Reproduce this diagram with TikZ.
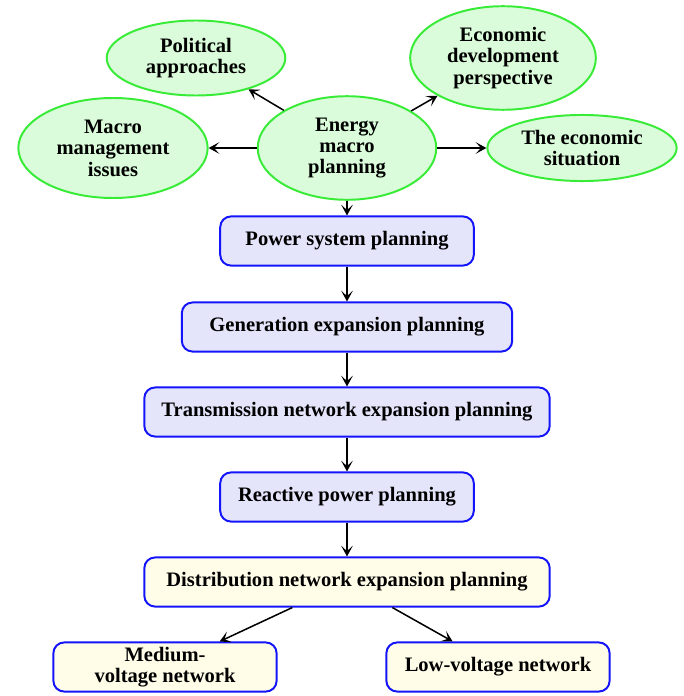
\documentclass[tikz,border=0pt]{standalone}
\usepackage{fontspec}
\setmainfont{Liberation Serif}
\usepackage{tikz}
\usetikzlibrary{shapes.geometric, arrows.meta}

\definecolor{ovalline}{RGB}{55,235,55}
\definecolor{ovalfill}{RGB}{218,252,218}
\definecolor{boxline}{RGB}{20,20,250}
\definecolor{boxfill}{RGB}{228,228,250}
\definecolor{lowfill}{RGB}{255,253,232}

\tikzset{
  oval/.style={ellipse, draw=ovalline, fill=ovalfill, line width=1.1pt,
    inner sep=0pt, align=center, font=\fontsize{11.5}{12}\selectfont\bfseries},
  plan/.style={rectangle, rounded corners=6pt, draw=boxline, fill=boxfill,
    line width=1.1pt, minimum height=27.5pt, inner sep=2pt, align=center,
    font=\fontsize{11.5}{12}\selectfont\bfseries},
  netw/.style={plan, fill=lowfill},
  link/.style={-{Stealth[length=6pt, width=6.5pt, inset=3pt]}, line width=0.85pt}
}

\begin{document}
\begin{tikzpicture}[x=0.56pt, y=-0.56pt]
    \useasboundingbox (0,0) rectangle (683,696);

    % the macro level
    \node[oval, minimum width=100pt, minimum height=58pt] (energy) at (347,148) {Energy\\macro\\planning};
    \node[oval, minimum width=100pt, minimum height=42pt] (polit) at (196,58) {Political\\approaches};
    \node[oval, minimum width=104pt, minimum height=58pt] (econdev) at (503,58) {Economic\\development\\perspective};
    \node[oval, minimum width=106pt, minimum height=56pt] (macro) at (113,148) {Macro\\management\\issues};
    \node[oval, minimum width=106pt, minimum height=37pt] (econsit) at (582,148) {The economic\\situation};

    % the planning chain
    \node[plan, minimum width=142pt] (power) at (347,241) {Power system planning};
    \node[plan, minimum width=185pt] (gen) at (347,327) {Generation expansion planning};
    \node[plan, minimum width=227pt] (trans) at (347,412) {Transmission network expansion planning};
    \node[plan, minimum width=142pt] (react) at (347,497) {Reactive power planning};
    \node[netw, minimum width=227pt] (dist) at (347,582) {Distribution network expansion planning};
    \node[netw, minimum width=125pt] (medium) at (165,667) {Medium-\\voltage network};
    \node[netw, minimum width=125pt] (low) at (498,667) {Low-voltage network};

    \draw[link] (energy) -- (polit);
    \draw[link] (energy) -- (econdev);
    \draw[link] (energy) -- (macro);
    \draw[link] (energy) -- (econsit);
    \draw[link] (energy) -- (power);
    \draw[link] (power) -- (gen);
    \draw[link] (gen) -- (trans);
    \draw[link] (trans) -- (react);
    \draw[link] (react) -- (dist);
    \draw[link] (dist) -- (medium);
    \draw[link] (dist) -- (low);
\end{tikzpicture}
\end{document}
